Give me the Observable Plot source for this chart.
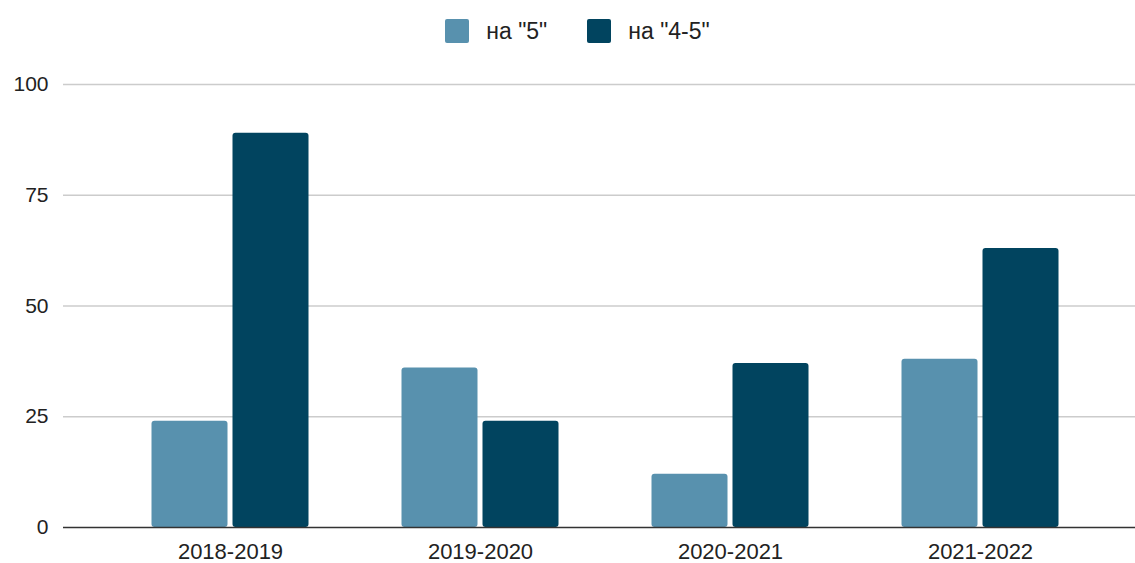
<!DOCTYPE html>
<html>
<head>
<meta charset="utf-8">
<script src="https://cdn.jsdelivr.net/npm/d3@7"></script>
<script src="https://cdn.jsdelivr.net/npm/@observablehq/plot@0.6"></script>
<style>
  html, body { margin: 0; padding: 0; background: #fff; }
  body { width: 1135px; height: 563px; overflow: hidden; font-family: "Liberation Sans", Arial, sans-serif; }
  #legend { height: 62px; display: flex; align-items: center; justify-content: center; padding-left: 20px; box-sizing: border-box; font-size: 23px; color: #222; }
  .item { display: flex; align-items: center; margin: 0 20px; }
  .sw { width: 24px; height: 24px; border-radius: 2px; margin-right: 17px; }
  svg { display: block; }
  #chart svg text { font-size: 21px; font-family: "Liberation Sans", Arial, sans-serif; fill: #222; }
  #chart svg g[aria-label="x-axis tick label"] text { font-size: 22px; }
</style>
</head>
<body>
<div id="legend"></div>
<div id="chart"></div>
<script>
const years = ["2018-2019", "2019-2020", "2020-2021", "2021-2022"];
const seriesNames = ['на "5"', 'на "4-5"'];
const seriesColors = ["#5891ae", "#01445f"];
const valuesFive = [24, 36, 12, 38];
const valuesFourFive = [89, 24, 37, 63];
const yTicks = [0, 25, 50, 75, 100];

const lightData = years.map((y, i) => ({year: y, value: valuesFive[i]}));
const darkData = years.map((y, i) => ({year: y, value: valuesFourFive[i]}));

// legend
const legend = document.getElementById("legend");
seriesNames.forEach((name, i) => {
  const item = document.createElement("div");
  item.className = "item";
  const sw = document.createElement("div");
  sw.className = "sw";
  sw.style.background = seriesColors[i];
  const label = document.createElement("span");
  label.textContent = name;
  item.appendChild(sw);
  item.appendChild(label);
  legend.appendChild(item);
});

const chart = Plot.plot({
  width: 1135,
  height: 501,
  marginLeft: 63,
  marginRight: 0,
  marginTop: 22,
  marginBottom: 36,
  style: {fontFamily: "'Liberation Sans', Arial, sans-serif", fontSize: "21px", color: "#222", background: "#fff"},
  x: {domain: years, range: [104.5, 1104.5], padding: 0, label: null, tickSize: 0, tickPadding: 16},
  y: {domain: [0, 100], ticks: yTicks, label: null, tickSize: 0, tickPadding: 15},
  marks: [
    Plot.ruleY(yTicks.filter(t => t !== 0), {stroke: "#cccccc", strokeWidth: 1.3, strokeOpacity: 1}),
    Plot.barY(lightData, {x: "year", y: "value", fill: seriesColors[0], insetLeft: 46.5, insetRight: 127.5, rx: 3}),
    Plot.barY(darkData, {x: "year", y: "value", fill: seriesColors[1], insetLeft: 127.5, insetRight: 46.5, rx: 3}),
    Plot.ruleY([0], {stroke: "#333333", strokeWidth: 1.3})
  ]
});
document.getElementById("chart").appendChild(chart);
</script>
</body>
</html>
